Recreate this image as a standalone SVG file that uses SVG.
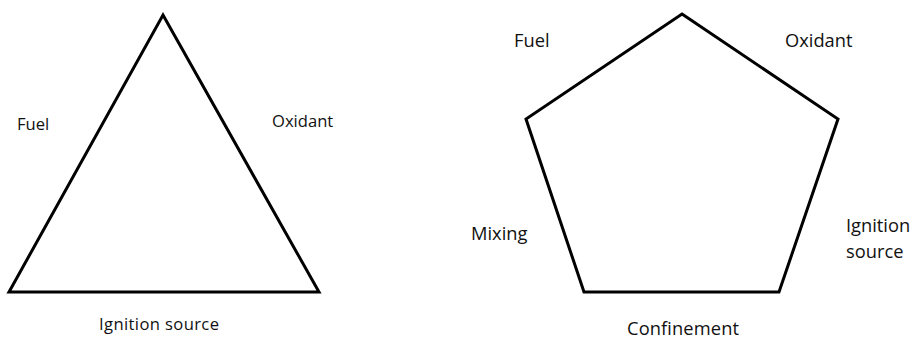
<svg xmlns="http://www.w3.org/2000/svg" width="913" height="338" viewBox="0 0 913 338">
  <style>
    .shape { fill: none; stroke: #000; stroke-width: 3; stroke-linejoin: miter; }
    .lbl { font-family: "Open Sans", "Noto Sans", "Liberation Sans", sans-serif; fill: #111; }
    .t { font-size: 16.6px; }
    .p { font-size: 18.3px; }
  </style>
  <rect width="913" height="338" fill="#fff"/>
  <g id="fire-triangle">
    <polygon class="shape" points="163,15 319,292 9,292"/>
    <text class="lbl t" x="17" y="130">Fuel</text>
    <text class="lbl t" x="272" y="127">Oxidant</text>
    <text class="lbl t" x="99" y="330" textLength="120" lengthAdjust="spacing">Ignition source</text>
  </g>
  <g id="explosion-pentagon">
    <polygon class="shape" points="682,14 838,119 779,292 584,292 526,119"/>
    <text class="lbl p" x="514" y="47">Fuel</text>
    <text class="lbl p" x="785" y="47">Oxidant</text>
    <text class="lbl p" x="471" y="240">Mixing</text>
    <text class="lbl p" x="846" y="232">Ignition</text>
    <text class="lbl p" x="846" y="258">source</text>
    <text class="lbl p" x="627" y="335" textLength="112" lengthAdjust="spacing">Confinement</text>
  </g>
</svg>
